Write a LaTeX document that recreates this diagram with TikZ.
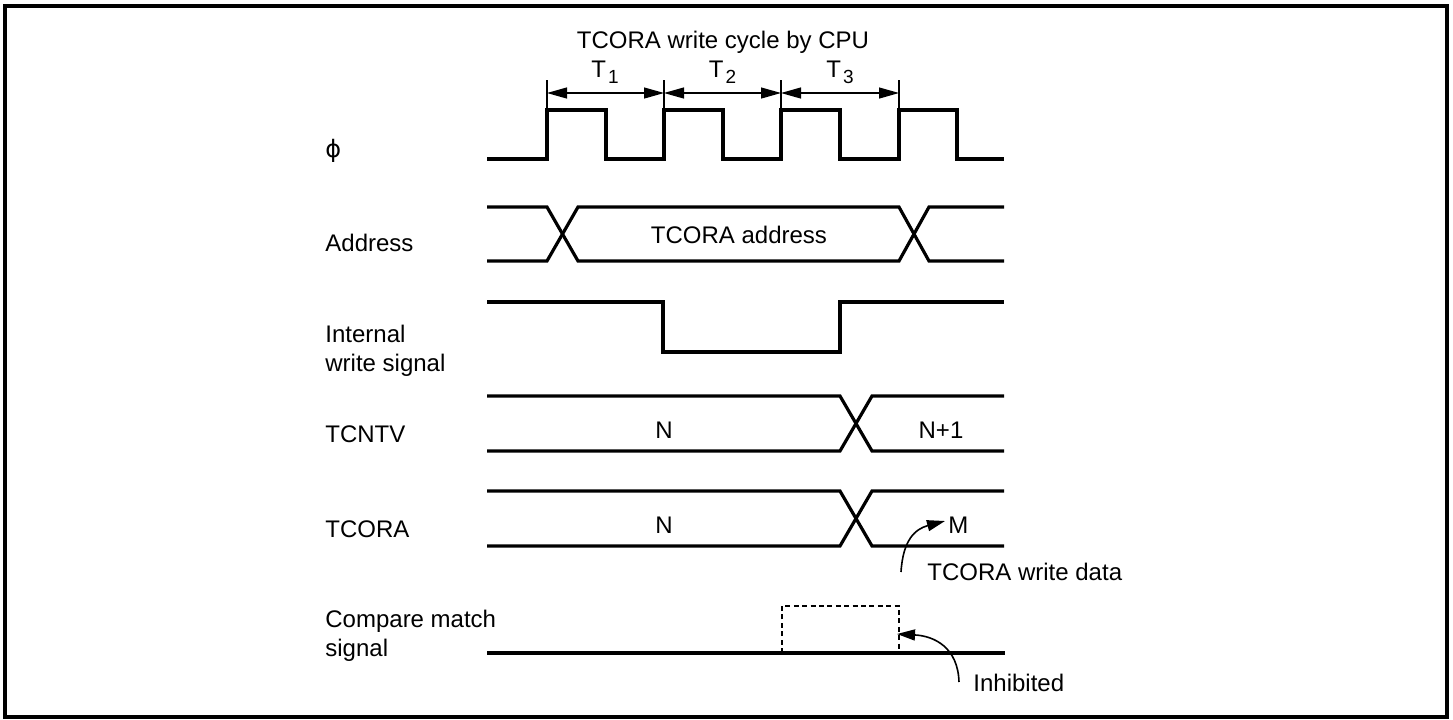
\documentclass[tikz,border=0pt]{standalone}
\usepackage{fontspec}
\setmainfont{Liberation Sans}
\newfontfamily\greekfont{DejaVu Sans}
\usepackage{tikz}
\usetikzlibrary{arrows.meta,backgrounds}
\pgfdeclarelayer{edgelayer}
\pgfdeclarelayer{nodelayer}
\pgfsetlayers{background,edgelayer,nodelayer,main}
\tikzstyle{none}=[inner sep=0mm]
\tikzstyle{signame}=[inner sep=0mm,anchor=base west,align=left,font=\fontsize{12}{14.5}\selectfont]
\tikzstyle{busval}=[inner sep=0mm,anchor=base,font=\fontsize{12}{14.5}\selectfont]
\tikzstyle{note}=[busval,anchor=base west]
\tikzstyle{sig}=[line width=1.6pt]
\tikzstyle{tick}=[line width=0.6pt]
\tikzstyle{dimline}=[line width=0.6pt,{Triangle[length=10pt,width=5.5pt]}-{Triangle[length=10pt,width=5.5pt]}]
\tikzstyle{callout}=[line width=0.8pt,-{Triangle[length=9pt,width=5.5pt]}]
\tikzstyle{inhibit}=[line width=0.9pt,dash pattern=on 2.5pt off 1.7pt]
\newcommand{\Tsub}[1]{T\kern1pt\raisebox{-3pt}{\fontsize{9.5}{9.5}\selectfont #1}}

\begin{document}
\begin{tikzpicture}[x=0.5pt,y=-0.5pt]
	\useasboundingbox (0,0) rectangle (1453,719);
	\draw [line width=2pt] (5,6) rectangle (1446.5,717);
	\begin{pgfonlayer}{nodelayer}
		\node [style=busval] (title) at (723,48) {TCORA write cycle by CPU};
		\node [style=busval] (T1) at (605,77) {\Tsub{1}};
		\node [style=busval] (T2) at (722.5,77) {\Tsub{2}};
		\node [style=busval] (T3) at (840,77) {\Tsub{3}};
		\node [style=signame] (phi) at (325,157) {\greekfont ϕ};
		\node [style=signame] (addr) at (325,251) {Address};
		\node [style=signame] (wr) at (325,371) {Internal\\write signal};
		\node [style=signame] (cnt) at (325,442) {TCNTV};
		\node [style=signame] (cora) at (325,537) {TCORA};
		\node [style=signame] (cmp) at (325,656) {Compare match\\signal};
		\node [style=busval] (addrval) at (739,243) {TCORA address};
		\node [style=busval] (cntN) at (664,438) {N};
		\node [style=busval] (cntN1) at (941,438) {N+1};
		\node [style=busval] (coraN) at (664,533) {N};
		\node [style=note] (coraM) at (948,533) {M};
		\node [style=note] (wdata) at (927,580) {TCORA write data};
		\node [style=note] (inhib) at (973,691) {Inhibited};
		\node [style=none] (t0) at (547,93) {};
		\node [style=none] (t1) at (664,93) {};
		\node [style=none] (t2) at (781,93) {};
		\node [style=none] (t3) at (899,93) {};
		\node [style=none] (k0) at (547,80) {};
		\node [style=none] (k1) at (664,80) {};
		\node [style=none] (k2) at (781,80) {};
		\node [style=none] (k3) at (899,80) {};
		\node [style=none] (mtail) at (901,572) {};
		\node [style=none] (mtip) at (945,521) {};
		\node [style=none] (ihtail) at (959,682) {};
		\node [style=none] (ihtip) at (897,634) {};
	\end{pgfonlayer}
	\begin{pgfonlayer}{edgelayer}
		% cycle marks
		\draw [style=tick] (k0.center) to (547,110);
		\draw [style=tick] (k1.center) to (664,110);
		\draw [style=tick] (k2.center) to (781,110);
		\draw [style=tick] (k3.center) to (899,110);
		\draw [style=dimline] (t0.center) to (t1.center);
		\draw [style=dimline] (t1.center) to (t2.center);
		\draw [style=dimline] (t2.center) to (t3.center);
		% clock
		\draw [style=sig] (487,159) -- (547,159) -- (547,110) -- (606,110) -- (606,159) -- (664,159) -- (664,110) -- (723,110) -- (723,159) -- (781,159) -- (781,110) -- (840,110) -- (840,159) -- (899,159) -- (899,110) -- (957,110) -- (957,159) -- (1004,159);
		% address
		\draw [style=sig] (487,207) -- (547,207) -- (578,261) -- (899,261) -- (929,207) -- (1004,207);
		\draw [style=sig] (487,261) -- (547,261) -- (578,207) -- (899,207) -- (929,261) -- (1004,261);
		% write strobe
		\draw [style=sig] (487,302) -- (663,302) -- (663,352) -- (840,352) -- (840,302) -- (1004,302);
		% counter and compare register
		\draw [style=sig] (487,396) -- (840,396) -- (872,451) -- (1004,451);
		\draw [style=sig] (487,451) -- (840,451) -- (872,396) -- (1004,396);
		\draw [style=sig] (487,491) -- (840,491) -- (872,546) -- (1004,546);
		\draw [style=sig] (487,546) -- (840,546) -- (872,491) -- (1004,491);
		% compare match
		\draw [style=sig] (487,653) -- (1005,653);
		\draw [style=inhibit] (782,653) -- (782,606) -- (899,606) -- (899,653);
		\draw [style=callout] (mtail.center) .. controls (903,540) and (915,529) .. (mtip.center);
		\draw [style=callout] (ihtail.center) .. controls (958,648) and (935,636) .. (ihtip.center);
	\end{pgfonlayer}
\end{tikzpicture}
\end{document}
